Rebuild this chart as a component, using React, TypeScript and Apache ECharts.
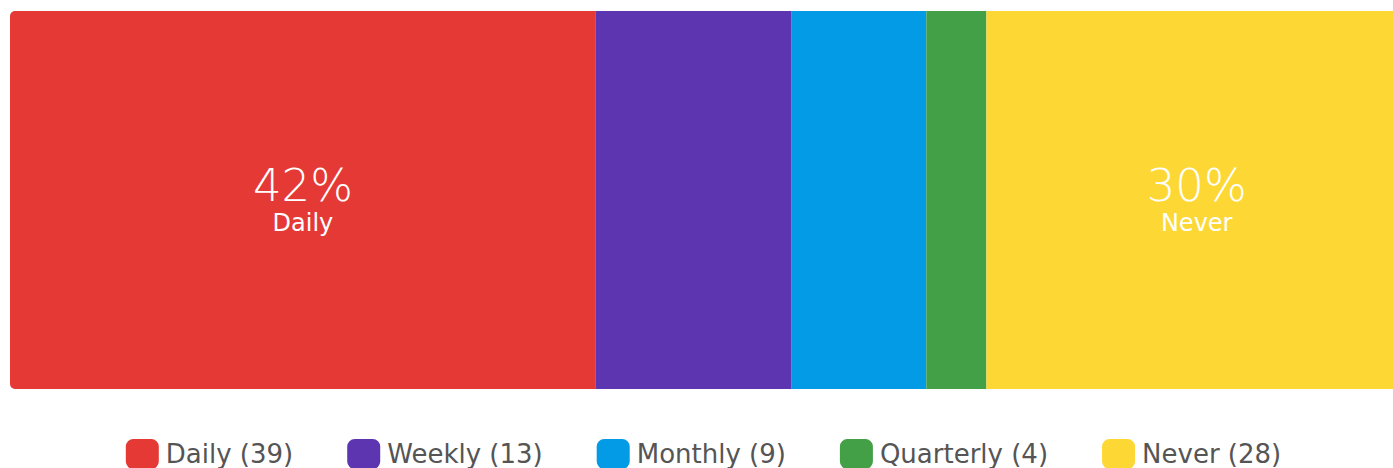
import React, { useEffect, useRef } from "react";
import * as echarts from "echarts";

const categories = ["Daily", "Weekly", "Monthly", "Quarterly", "Never"];
const counts = [39, 13, 9, 4, 28];
const colors = ["#E53935", "#5E35B1", "#039BE5", "#43A047", "#FDD835"];
const labelled = ["Daily", "Never"];

export default function App() {
  const ref = useRef<HTMLDivElement>(null);
  useEffect(() => {
    if (!ref.current) return;
    const chart = echarts.init(ref.current, null, { renderer: "svg" });
    const total = counts.reduce((a, b) => a + b, 0);
    const series = categories.map((name, i) => ({
      name,
      type: "bar",
      stack: "all",
      barWidth: 378,
      data: [counts[i]],
      itemStyle: {
        color: colors[i],
        borderRadius: i === 0 ? [5, 0, 0, 5] : i === categories.length - 1 ? [0, 5, 5, 0] : 0,
      },
      label: {
        show: labelled.includes(name),
        position: "inside",
        formatter: () => `{a|${Math.round((counts[i] / total) * 100)}%}\n{b|${name}}`,
        rich: {
          a: { fontSize: 45, color: "#fff", fontFamily: "DejaVu Sans", lineHeight: 46, fontWeight: 200 },
          b: { fontSize: 24, color: "#fff", fontFamily: "DejaVu Sans", lineHeight: 30 },
        },
      },
    }));
    chart.setOption({
      animation: false,
      grid: { left: 10, top: 11, right: 0, height: 378 },
      xAxis: { type: "value", min: 0, max: total, show: false },
      yAxis: { type: "category", data: ["all"], show: false },
      legend: {
        data: categories,
        left: "center",
        top: 434,
        icon: "roundRect",
        itemWidth: 33,
        itemHeight: 30,
        itemGap: 54,
        formatter: (n: string) => `${n} (${counts[categories.indexOf(n)]})`,
        textStyle: { fontSize: 26, color: "#555", fontFamily: "DejaVu Sans", padding: [0, 0, 0, 2] },
      },
      series,
    });
    return () => chart.dispose();
  }, []);
  return (
    <div style={{ position: "fixed", left: 0, top: 0, width: 1393, height: 468, overflow: "hidden", background: "#fff" }}>
      <div ref={ref} style={{ width: 1407, height: 468 }} />
    </div>
  );
}
